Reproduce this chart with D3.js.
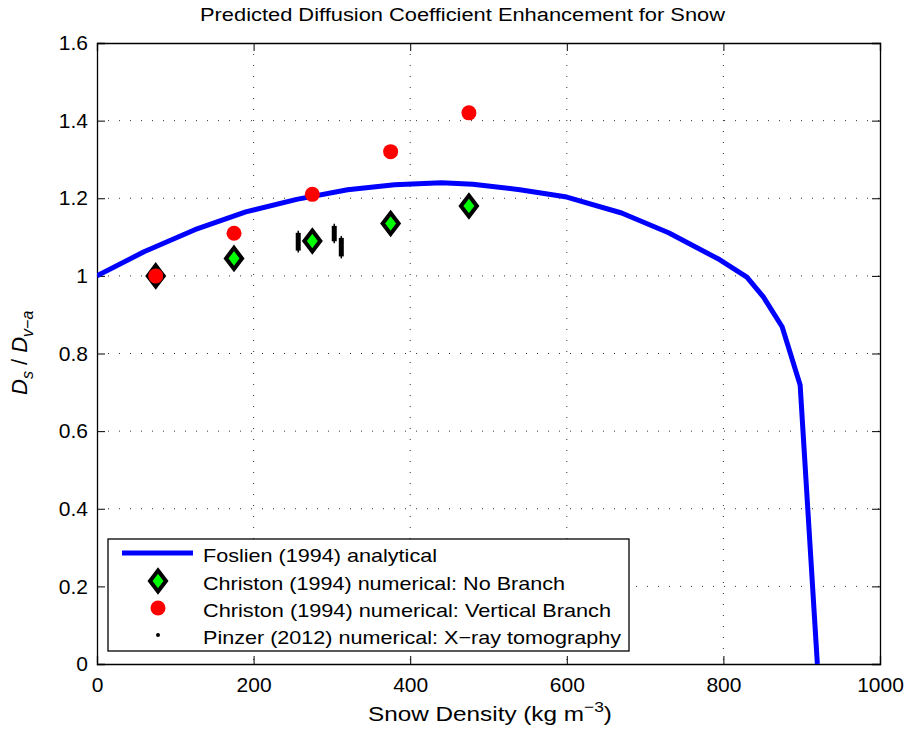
<!DOCTYPE html>
<html>
<head>
<meta charset="utf-8">
<script src="https://cdn.jsdelivr.net/npm/d3@7"></script>
<style>
  body { margin: 0; background: #fff; }
  text { font-family: "Liberation Sans", Arial, sans-serif; fill: #000; }
  .grid line { stroke: #333; stroke-width: 1; stroke-dasharray: 1,10; }
</style>
</head>
<body>
<svg id="chart" width="916" height="738"></svg>
<script>

// Foslien (1994) analytical curve
var foslien_density = [0, 60, 125, 190, 255, 320, 380, 440, 480, 540, 600, 670, 730, 795, 830, 851, 875, 898, 920];
var foslien_ratio   = [1.0, 1.062, 1.119, 1.165, 1.197, 1.222, 1.235, 1.24, 1.236, 1.222, 1.203, 1.162, 1.111, 1.042, 0.997, 0.946, 0.869, 0.719, 0.0];

// Christon (1994) numerical
var christon_density = [75, 175, 275, 375, 475];
var nobranch_ratio   = [1.0, 1.045, 1.09, 1.135, 1.18];
var vertical_ratio   = [1.0, 1.11, 1.21, 1.32, 1.42];

// Pinzer (2012) tomography: clusters of points, given as low / high
var pinzer_density = [257, 303, 312];
var pinzer_low     = [1.060, 1.084, 1.045];
var pinzer_high    = [1.116, 1.134, 1.103];

var x_ticks = [0, 200, 400, 600, 800, 1000];
var y_ticks = [0, 0.2, 0.4, 0.6, 0.8, 1, 1.2, 1.4, 1.6];

var legend_labels = ["Foslien (1994) analytical",
                     "Christon (1994) numerical: No Branch",
                     "Christon (1994) numerical: Vertical Branch",
                     "Pinzer (2012) numerical: X\u2212ray tomography"];
var legend_widths = [234, 362, 408, 418];   // the text in the picture is a bit stretched

var margin = {left: 97, right: 36, top: 43, bottom: 74};
var width = 916, height = 738;
var innerWidth = width - margin.left - margin.right;
var innerHeight = height - margin.top - margin.bottom;

var root = d3.select("#chart");
var svg = root.append("g")
            .attr("transform", "translate(" + margin.left + "," + margin.top + ")");

var xScale = d3.scaleLinear().domain([0, 1000]).range([0, innerWidth]);
var yScale = d3.scaleLinear().domain([0, 1.6]).range([innerHeight, 0]);

// dotted grid
var grid = svg.append("g").attr("class", "grid");
grid.selectAll("line.gx")
    .data(x_ticks.slice(1, -1))
    .enter().append("line")
    .attr("x1", d => xScale(d)).attr("x2", d => xScale(d))
    .attr("y1", 0).attr("y2", innerHeight);
grid.selectAll("line.gy")
    .data(y_ticks.slice(1, -1))
    .enter().append("line")
    .attr("y1", d => yScale(d)).attr("y2", d => yScale(d))
    .attr("x1", 0).attr("x2", innerWidth);

// axes, matlab style: ticks pointing inwards on all four sides
function fmt(d) { return d3.format("")(+d.toFixed(1)); }

var xAxis = svg.append("g")
   .attr("transform", "translate(0," + innerHeight + ")")
   .call(d3.axisBottom(xScale).tickValues(x_ticks).tickSize(-8).tickPadding(13).tickFormat(d3.format("d")));
var xTop = svg.append("g")
   .call(d3.axisTop(xScale).tickValues(x_ticks).tickSize(-8).tickFormat(""));
var yAxis = svg.append("g")
   .call(d3.axisLeft(yScale).tickValues(y_ticks).tickSize(-8).tickPadding(9).tickFormat(fmt));
var yRight = svg.append("g")
   .attr("transform", "translate(" + innerWidth + ",0)")
   .call(d3.axisRight(yScale).tickValues(y_ticks).tickSize(-8).tickFormat(""));

xTop.selectAll("text").remove();     // no labels on the mirrored axes
yRight.selectAll("text").remove();

[xAxis, xTop, yAxis, yRight].forEach(function(a) {
    a.select(".domain").attr("stroke", "#000").attr("stroke-width", 1.3);
    a.selectAll(".tick line").attr("stroke", "#000");
    a.selectAll("text").style("font-size", "21px").style("font-family", "Liberation Sans, Arial, sans-serif");
});
xAxis.selectAll("text").attr("dy", "0.71em");

// Foslien curve
var foslien = foslien_density.map((d, i) => [d, foslien_ratio[i]]);
var line = d3.line().x(d => xScale(d[0])).y(d => yScale(d[1])).curve(d3.curveLinear);

svg.append("clipPath").attr("id", "clip")
   .append("rect").attr("width", innerWidth).attr("height", innerHeight + 1);

svg.append("path")
   .datum(foslien)
   .attr("clip-path", "url(#clip)")
   .attr("fill", "none")
   .attr("stroke", "#0000ff")
   .attr("stroke-width", 5)
   .attr("stroke-linejoin", "round")
   .attr("d", line);

// diamond helper
function diamond(cx, cy, w, h) {
    return "M" + cx + "," + (cy - h) + "L" + (cx + w) + "," + cy +
           "L" + cx + "," + (cy + h) + "L" + (cx - w) + "," + cy + "Z";
}

// Christon no branch
svg.selectAll("path.nobranch")
   .data(christon_density.map((d, i) => [d, nobranch_ratio[i]]))
   .enter().append("path")
   .attr("class", "nobranch")
   .attr("d", d => diamond(xScale(d[0]), yScale(d[1]), 8, 10.5))
   .attr("fill", "#00ff00")
   .attr("stroke", "#000")
   .attr("stroke-width", 4);

// Christon vertical branch
svg.selectAll("circle.vertical")
   .data(christon_density.map((d, i) => [d, vertical_ratio[i]]))
   .enter().append("circle")
   .attr("cx", d => xScale(d[0]))
   .attr("cy", d => yScale(d[1]))
   .attr("r", 7.5)
   .attr("fill", "#ff0000");

// Pinzer clusters
var pinzer = pinzer_density.map((d, i) => [d, pinzer_low[i], pinzer_high[i]]);
svg.selectAll("line.pinzer_thin")
   .data(pinzer)
   .enter().append("line")
   .attr("x1", d => xScale(d[0])).attr("x2", d => xScale(d[0]))
   .attr("y1", d => yScale(d[1])).attr("y2", d => yScale(d[2]))
   .attr("stroke", "#000").attr("stroke-width", 1.5);
svg.selectAll("rect.pinzer")
   .data(pinzer)
   .enter().append("rect")
   .attr("x", d => xScale(d[0]) - 2.5)
   .attr("width", 5)
   .attr("y", d => yScale(d[2]) + 2)
   .attr("height", d => yScale(d[1]) - yScale(d[2]) - 4)
   .attr("fill", "#000");

// title and axis labels
root.append("text")
   .attr("x", 200).attr("y", 21)
   .attr("textLength", 525).attr("lengthAdjust", "spacingAndGlyphs")
   .style("font-size", "18px")
   .text("Predicted Diffusion Coefficient Enhancement for Snow");

// x label, stretched horizontally to the width seen in the picture
var xlg = root.append("g");
var xl = xlg.append("text")
   .attr("x", 0).attr("y", 0)
   .style("font-size", "21px");
xl.append("tspan").text("Snow Density (kg m");
xl.append("tspan").attr("dy", -9).style("font-size", "15px").text("\u22123");
xl.append("tspan").attr("dy", 9).text(")");
var xlw = xl.node().getComputedTextLength();
xlg.attr("transform", "translate(368,721) scale(" + (244 / xlw) + ",1)");

var yl = root.append("text")
   .attr("transform", "translate(27," + 395 + ") rotate(-90)")
   .attr("text-anchor", "start")
   .style("font-size", "22px");
yl.append("tspan").style("font-style", "italic").text("D");
yl.append("tspan").attr("dy", 6).style("font-size", "16px").style("font-style", "italic").text("s");
yl.append("tspan").attr("dy", -6).text(" / ");
yl.append("tspan").style("font-style", "italic").text("D");
yl.append("tspan").attr("dy", 6).style("font-size", "16px").style("font-style", "italic").text("v\u2212a");

// legend
var lg = root.append("g").attr("transform", "translate(108,539)");
lg.append("rect")
  .attr("width", 521).attr("height", 112)
  .attr("fill", "#fff").attr("stroke", "#000").attr("stroke-width", 1.3);

var rowY = [14, 42, 69, 96];
lg.append("line")
  .attr("x1", 14).attr("x2", 85).attr("y1", rowY[0]).attr("y2", rowY[0])
  .attr("stroke", "#0000ff").attr("stroke-width", 5);
lg.append("path")
  .attr("d", diamond(50, rowY[1], 8, 10.5))
  .attr("fill", "#00ff00").attr("stroke", "#000").attr("stroke-width", 4);
lg.append("circle")
  .attr("cx", 50).attr("cy", rowY[2]).attr("r", 7.5).attr("fill", "#ff0000");
lg.append("circle")
  .attr("cx", 50).attr("cy", rowY[3]).attr("r", 2).attr("fill", "#000");

lg.selectAll("text.leg")
  .data(legend_labels)
  .enter().append("text")
  .attr("x", 95)
  .attr("y", (d, i) => rowY[i] + 8.5)
  .attr("textLength", (d, i) => legend_widths[i])
  .attr("lengthAdjust", "spacingAndGlyphs")
  .style("font-size", "18.5px")
  .text(d => d);

</script>
</body>
</html>
